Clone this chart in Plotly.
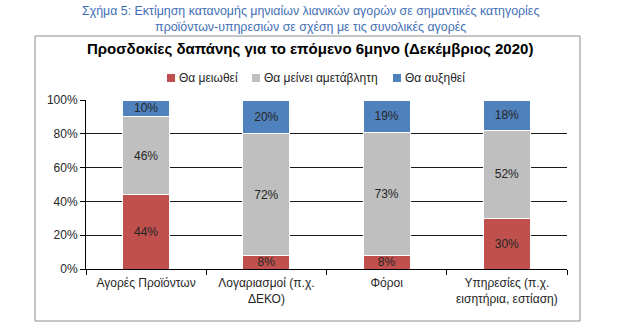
import plotly.graph_objects as go

categories = ["Αγορές Προϊόντων", "Λογαριασμοί (π.χ.<br>ΔΕΚΟ)", "Φόροι",
              "Υπηρεσίες (π.χ.<br>εισητήρια, εστίαση)"]
decrease = [44, 8, 8, 30]
unchanged = [46, 72, 73, 52]
increase = [10, 20, 19, 18]
series_names = ["Θα μειωθεί", "Θα μείνει αμετάβλητη", "Θα αυξηθεί"]
colors = ["#C0504D", "#BFBFBF", "#4F81BD"]
y_ticks = [0, 20, 40, 60, 80, 100]
y_tick_text = ["0%", "20%", "40%", "60%", "80%", "100%"]

W, H = 620, 330
L, R, T, B = 86, 567, 100, 269  # plot area in pixels


def px_x(x):
    return (x - L) / (R - L)


def px_y(y):
    return (B - y) / (B - T)


fig = go.Figure()
for name, vals, col in zip(series_names, [decrease, unchanged, increase], colors):
    fig.add_trace(go.Bar(
        x=categories, y=vals, name=name, showlegend=False,
        marker=dict(color=col, line=dict(color="white", width=1)),
        text=[f"{v}%" for v in vals], textposition="inside",
        insidetextanchor="middle",
        textfont=dict(color="#262626", size=12, family="Liberation Sans, Arial"),
    ))

fig.update_layout(
    width=W, height=H,
    margin=dict(l=L, r=W - R, t=T, b=H - B, pad=0),
    barmode="stack", bargap=0.61,
    plot_bgcolor="white", paper_bgcolor="white",
    font=dict(family="Liberation Sans, Arial", size=12, color="#262626"),
    uniformtext=dict(minsize=12, mode="show"),
    xaxis=dict(showline=True, linecolor="#000000", linewidth=1,
               ticks="outside", tickson="boundaries", ticklen=5, tickcolor="#000000",
               ticklabelstandoff=3,
               tickfont=dict(size=12, color="#262626"), showgrid=False),
    yaxis=dict(range=[0, 100], tickmode="array", tickvals=y_ticks, ticktext=y_tick_text,
               showline=True, linecolor="#000000", linewidth=1,
               ticks="outside", ticklen=5, tickcolor="#000000",
               showgrid=True, gridcolor="#1A1A1A", gridwidth=1,
               tickfont=dict(size=12, color="#262626"), zeroline=False),
)

# outer frame around the chart
fig.add_shape(type="rect", xref="paper", yref="paper",
              x0=px_x(35), x1=px_x(580), y0=px_y(321), y1=px_y(36),
              line=dict(color="#8C8C8C", width=1), layer="below")

# legend row: colour key squares followed by series names
legend_x = [167, 252, 393]
legend_y = 78
for lx, name, col in zip(legend_x, series_names, colors):
    fig.add_shape(type="rect", xref="paper", yref="paper",
                  x0=px_x(lx), x1=px_x(lx + 8), y0=px_y(legend_y + 4), y1=px_y(legend_y - 4),
                  fillcolor=col, line=dict(width=0))
    fig.add_annotation(xref="paper", yref="paper", x=px_x(lx + 10), y=px_y(legend_y),
                       text=name, showarrow=False, xanchor="left", yanchor="middle",
                       font=dict(size=12, color="#262626"))

# figure caption and chart title
fig.add_annotation(xref="paper", yref="paper", x=px_x(310), y=px_y(19),
                   text="Σχήμα 5: Εκτίμηση κατανομής μηνιαίων λιανικών αγορών σε σημαντικές κατηγορίες<br>"
                        "προϊόντων-υπηρεσιών σε σχέση με τις συνολικές αγορές",
                   showarrow=False, xanchor="center", yanchor="middle",
                   font=dict(family="Liberation Sans, Arial", size=12.4, color="#3F6FB5"))
fig.add_annotation(xref="paper", yref="paper", x=px_x(310), y=px_y(48),
                   text="<b>Προσδοκίες δαπάνης για το επόμενο 6μηνο (Δεκέμβριος 2020)</b>",
                   showarrow=False, xanchor="center", yanchor="middle",
                   font=dict(family="Liberation Sans, Arial", size=15, color="#000000"))

fig.write_html("out.html")
